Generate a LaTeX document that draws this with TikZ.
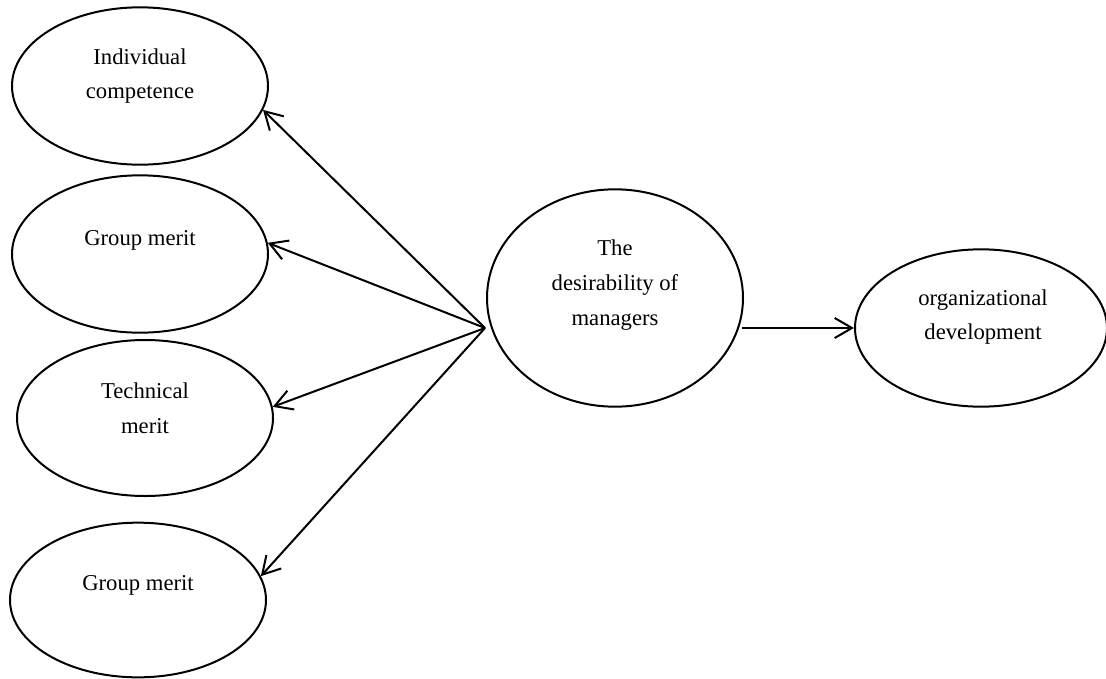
\documentclass[tikz,border=0pt]{standalone}
\usepackage{fontspec}
\setmainfont{Liberation Serif}
\usetikzlibrary{shapes,arrows.meta,positioning}

\begin{document}
\begin{tikzpicture}[x=0.75pt,y=-0.75pt,
	oval/.style={draw,ellipse,line width=1.5pt,minimum width=192pt,minimum height=118pt,inner sep=0pt},
	txt/.style={align=center,font=\fontsize{17}{26}\selectfont},
	link/.style={line width=1.5pt,-{Straight Barb[length=13pt,width=15pt]}}]
	\useasboundingbox (0,0) rectangle (1106,678);

	\node[oval]							(ic)	at (140,86)		{};
	\node[oval]							(gm1)	at (140,254)	{};
	\node[oval,minimum height=117pt]	(tm)	at (145,418)	{};
	\node[oval,minimum height=116pt]	(gm2)	at (138,600)	{};
	\node[oval,minimum height=163pt]	(des)	at (615,298)	{};
	\node[oval,minimum width=189pt]		(org)	at (981,328)	{};

	\node[txt]	(ictxt)		at (140,76)		{Individual\\competence};
	\node[txt]	(gm1txt)	at (140,240)	{Group merit};
	\node[txt]	(tmtxt)		at (145,408)	{Technical\\merit};
	\node[txt]	(gm2txt)	at (138,585)	{Group merit};
	\node[txt]	(destxt)	at (615,285)	{The\\desirability of\\managers};
	\node[txt]	(orgtxt)	at (983,317)	{organizational\\development};

	\coordinate	(hub)	at (485,328);
	\coordinate	(tail)	at (742,328);
	\draw[link]	(hub) -- (ic.-11);
	\draw[link]	(hub) -- (gm1.5);
	\draw[link]	(hub) -- (tm.5);
	\draw[link]	(hub) -- (gm2.11);
	\draw[link]	(tail) -- (org.west);
\end{tikzpicture}
\end{document}
